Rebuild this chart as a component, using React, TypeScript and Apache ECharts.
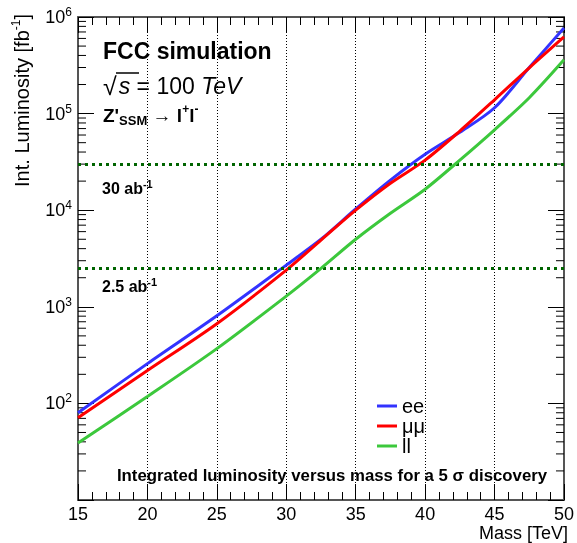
import React, { useEffect, useRef } from "react";
import * as echarts from "echarts";

// ---- data ----
const MASS = [15, 20, 25, 30, 32.5, 35, 37.5, 40, 42.5, 45, 47.5, 50];
const LUMI_EE = [80, 258, 807, 2700, 5000, 10300, 20500, 38000, 64000, 115000, 300000, 770000];
const LUMI_MM = [71, 219, 668, 2400, 4900, 10000, 19000, 33000, 66000, 139000, 298000, 622000];
const LUMI_LL = [39, 118, 369, 1290, 2500, 5000, 9300, 16500, 33000, 68000, 146000, 360000];
const SERIES_NAMES = ["ee", "μμ", "ll"];
const SERIES_COLORS = ["#3333ff", "#ff0000", "#3cc83c"];
const REF_LINES = [30000, 2500];
const REF_LABELS = ["30 ab", "2.5 ab"];
const X_MIN = 15;
const X_MAX = 50;
const Y_MIN = 10;
const Y_MAX = 1e6;
const Y_DECADES = [1, 2, 3, 4, 5];
const MINOR_MULT = [2, 3, 4, 5, 6, 7, 8, 9];

const FONT = "'Liberation Sans', Arial, Helvetica, sans-serif";

export default function App() {
  const ref = useRef<HTMLDivElement>(null);
  useEffect(() => {
    if (!ref.current) return;
    const chart = echarts.init(ref.current, undefined, { renderer: "svg" });

    const pairs = (ys: number[]) => MASS.map((m, i) => [m, ys[i]]);
    const minorData: number[][] = [];
    Y_DECADES.forEach((d) => MINOR_MULT.forEach((k) => minorData.push([X_MIN, k * Math.pow(10, d)])));

    const lineSeries = [LUMI_EE, LUMI_MM, LUMI_LL].map((ys, i) => ({
      type: "line",
      name: SERIES_NAMES[i],
      data: pairs(ys),
      showSymbol: false,
      smooth: 0.3,
      lineStyle: { width: 3, color: SERIES_COLORS[i] },
      itemStyle: { color: SERIES_COLORS[i] },
      z: 3 + i,
      ...(i === 0
        ? {
            markLine: {
              silent: true,
              symbol: ["none", "none"],
              label: { show: false },
              lineStyle: { color: "#006400", width: 3, type: [3, 4] },
              data: REF_LINES.map((v) => ({ yAxis: v })),
            },
          }
        : {}),
    }));

    const supRich = {
      b: { fontSize: 18, color: "#000", fontFamily: FONT, lineHeight: 22 },
      s: { fontSize: 12, color: "#000", fontFamily: FONT, verticalAlign: "top", lineHeight: 12 },
    };

    const option: any = {
      animation: false,
      textStyle: { fontFamily: FONT },
      grid: { left: 78, right: 8, top: 17, bottom: 43, containLabel: false },
      legend: {
        data: SERIES_NAMES,
        orient: "vertical",
        left: 372,
        top: 391,
        itemWidth: 20,
        itemHeight: 3,
        itemGap: 0,
        icon: "rect",
        textStyle: { fontSize: 20, color: "#000", lineHeight: 20, fontFamily: FONT },
      },
      xAxis: [
        {
          type: "value",
          min: X_MIN,
          max: X_MAX,
          interval: 5,
          position: "bottom",
          axisLine: { show: true, lineStyle: { color: "#555", width: 2 } },
          axisTick: { show: true, inside: true, length: 16, lineStyle: { color: "#000" } },
          minorTick: { show: true, splitNumber: 5, length: 8, lineStyle: { color: "#000" } },
          axisLabel: { fontSize: 18, color: "#000", margin: 5, lineHeight: 18 },
          splitLine: { show: true, lineStyle: { color: "#000", width: 1, type: [1, 2] } },
        },
        {
          type: "value",
          min: X_MIN,
          max: X_MAX,
          interval: 5,
          position: "top",
          axisLine: { show: true, lineStyle: { color: "#555", width: 2 } },
          axisTick: { show: true, inside: true, length: 16, lineStyle: { color: "#000" } },
          minorTick: { show: true, splitNumber: 5, length: 8, lineStyle: { color: "#000" } },
          axisLabel: { show: false },
          splitLine: { show: false },
        },
      ],
      yAxis: [
        {
          type: "log",
          logBase: 10,
          min: Y_MIN,
          max: Y_MAX,
          position: "left",
          axisLine: { show: true, lineStyle: { color: "#555", width: 2 } },
          axisTick: { show: true, inside: true, length: 16, lineStyle: { color: "#000" } },
          axisLabel: {
            margin: 6,
            formatter: (v: number) => {
              const n = Math.round(Math.log10(v));
              if (n <= 1) return "";
              return `{b|10}{s|${n}}`;
            },
            rich: supRich,
          },
          splitLine: { show: false },
        },
        {
          type: "log",
          logBase: 10,
          min: Y_MIN,
          max: Y_MAX,
          position: "right",
          axisLine: { show: true, lineStyle: { color: "#555", width: 2 } },
          axisTick: { show: true, inside: true, length: 16, lineStyle: { color: "#000" } },
          axisLabel: { show: false },
          splitLine: { show: false },
        },
      ],
      series: [
        ...lineSeries,
        {
          type: "custom",
          name: "minorTicks",
          silent: true,
          clip: false,
          data: minorData,
          encode: { x: 0, y: 1 },
          renderItem: (params: any, api: any) => {
            const v = api.value(1);
            const pL = api.coord([X_MIN, v]);
            const pR = api.coord([X_MAX, v]);
            return {
              type: "group",
              children: [
                { type: "line", shape: { x1: pL[0], y1: pL[1], x2: pL[0] + 8, y2: pL[1] }, style: { stroke: "#000", lineWidth: 1 } },
                { type: "line", shape: { x1: pR[0] - 8, y1: pR[1], x2: pR[0], y2: pR[1] }, style: { stroke: "#000", lineWidth: 1 } },
              ],
            };
          },
        },
      ],
      graphic: [
        {
          type: "text",
          x: 22,
          y: 14,
          rotation: Math.PI / 2,
          style: {
            text: "{b|Int. Luminosity [fb}{s|-1}{b|]}",
            align: "right",
            verticalAlign: "middle",
            rich: {
              b: { fontSize: 20, fill: "#000", fontFamily: FONT, lineHeight: 24 },
              s: { fontSize: 12, fill: "#000", fontFamily: FONT, verticalAlign: "top", lineHeight: 12 },
            },
          },
        },
        {
          type: "text",
          x: 568,
          y: 533,
          style: { text: "Mass [TeV]", align: "right", verticalAlign: "middle", fontSize: 18, lineHeight: 16, fill: "#000", fontFamily: FONT },
        },
        {
          type: "text",
          x: 103,
          y: 51,
          style: { text: "FCC simulation", align: "left", verticalAlign: "middle", fontSize: 23, fontWeight: "bold", fill: "#000", fontFamily: FONT },
        },
        {
          type: "text",
          x: 103,
          y: 86,
          style: {
            text: "{r|√}{i|s}{n| = 100 }{i|TeV}",
            align: "left",
            verticalAlign: "middle",
            rich: {
              r: { fontSize: 25, fill: "#000", fontFamily: FONT, padding: [0, 2, 0, 0] },
              n: { fontSize: 23, fill: "#000", fontFamily: FONT },
              i: { fontSize: 23, fill: "#000", fontFamily: FONT, fontStyle: "italic" },
            },
          },
        },
        {
          type: "line",
          shape: { x1: 116, y1: 73, x2: 139, y2: 73 },
          style: { stroke: "#000", lineWidth: 1.5 },
        },
        {
          type: "text",
          x: 103,
          y: 115,
          style: {
            text: "{b|Z'}{sub|SSM}{n| → }{b|l}{sup|+}{b|l}{sup|-}",
            align: "left",
            verticalAlign: "middle",
            rich: {
              b: { fontSize: 19, fontWeight: "bold", fill: "#000", fontFamily: FONT, lineHeight: 24 },
              n: { fontSize: 19, fill: "#000", fontFamily: FONT, lineHeight: 24 },
              sub: { fontSize: 13, fontWeight: "bold", fill: "#000", fontFamily: FONT, verticalAlign: "bottom", lineHeight: 13 },
              sup: { fontSize: 12, fontWeight: "bold", fill: "#000", fontFamily: FONT, verticalAlign: "top", lineHeight: 12 },
            },
          },
        },
        ...REF_LABELS.map((t, i) => ({
          type: "text",
          x: 102,
          y: i === 0 ? 188 : 286,
          style: {
            text: `{b|${t}}{s|-1}`,
            align: "left",
            verticalAlign: "middle",
            rich: {
              b: { fontSize: 16, fontWeight: "bold", fill: "#000", fontFamily: FONT, lineHeight: 19 },
              s: { fontSize: 11, fontWeight: "bold", fill: "#000", fontFamily: FONT, verticalAlign: "top", lineHeight: 11 },
            },
          },
        })),
        {
          type: "text",
          x: 332,
          y: 475,
          style: {
            text: "Integrated luminosity versus mass for a 5 σ discovery",
            align: "center",
            verticalAlign: "middle",
            fontSize: 16.8,
            fontWeight: "bold",
            fill: "#000",
            fontFamily: FONT,
          },
        },
      ],
    };

    chart.setOption(option);
    return () => chart.dispose();
  }, []);

  return <div ref={ref} style={{ position: "fixed", left: 0, top: 0, width: 577, height: 543 }} />;
}
